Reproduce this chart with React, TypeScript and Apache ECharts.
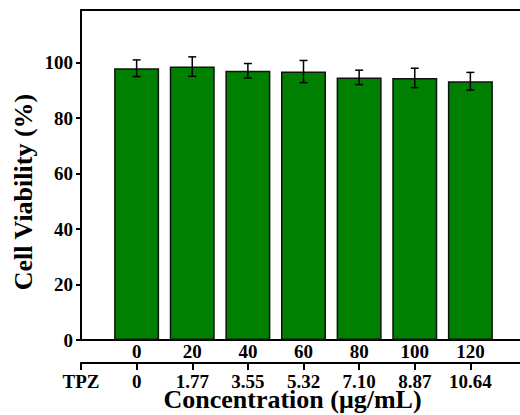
import React, { useEffect, useRef } from "react";
import * as echarts from "echarts";

const concentrations = ["0", "20", "40", "60", "80", "100", "120"];
const tpzLabels = ["0", "1.77", "3.55", "5.32", "7.10", "8.87", "10.64"];
const viability = [98, 98.6, 97.1, 96.8, 94.7, 94.5, 93.3];
const errors = [3, 3.5, 2.6, 4, 2.6, 3.5, 3.2];
const yTicks = [0, 20, 40, 60, 80, 100];

const FONT = "Liberation Serif";

export default function App() {
  const ref = useRef<HTMLDivElement>(null);
  useEffect(() => {
    if (!ref.current) return;
    const chart = echarts.init(ref.current, undefined, { renderer: "svg" });
    // padded categories so that bars sit one slot in from the left axis
    const topCats = ["", ...concentrations, ""];
    const tpzCats = ["TPZ", ...tpzLabels, ""];
    const barData = ["-", ...viability, "-"];
    const errData = viability.map((v, i) => [i + 1, v - errors[i], v + errors[i]]);

    chart.setOption({
      animation: false,
      textStyle: { fontFamily: FONT },
      grid: { left: 81, right: -6, top: 10, bottom: 75, containLabel: false, outerBoundsMode: "none" },
      xAxis: [
        {
          type: "category",
          data: topCats,
          position: "bottom",
          boundaryGap: false,
          axisLine: { lineStyle: { color: "#000", width: 2 } },
          axisTick: { inside: true, length: 7, lineStyle: { color: "#000", width: 2 }, alignWithLabel: true },
          axisLabel: {
            color: "#000",
            fontFamily: FONT,
            fontWeight: "bold",
            fontSize: 19,
            lineHeight: 16,
            margin: 3,
            interval: 0,
          },
          splitLine: { show: false },
        },
        {
          type: "category",
          data: tpzCats,
          position: "bottom",
          offset: 23,
          boundaryGap: false,
          axisLine: { lineStyle: { color: "#000", width: 2 } },
          axisTick: { length: 7, lineStyle: { color: "#000", width: 2 } },
          axisLabel: {
            color: "#000",
            fontFamily: FONT,
            fontWeight: "bold",
            fontSize: 19,
            lineHeight: 16,
            margin: 10,
            interval: 0,
          },
          name: "Concentration (μg/mL)",
          nameLocation: "middle",
          nameGap: 26,
          nameMoveOverlap: false,
          nameTextStyle: {
            color: "#000",
            fontFamily: FONT,
            fontWeight: "bold",
            fontSize: 26,
            lineHeight: 20,
            padding: [0, 22, 0, 0],
          },
          splitLine: { show: false },
        },
        {
          type: "category",
          data: topCats,
          position: "top",
          boundaryGap: false,
          axisLine: { lineStyle: { color: "#000", width: 2 } },
          axisTick: { show: false },
          axisLabel: { show: false },
          splitLine: { show: false },
        },
      ],
      yAxis: {
        type: "value",
        min: 0,
        max: 119,
        interval: 20,
        axisLine: { show: true, lineStyle: { color: "#000", width: 2 } },
        axisTick: { show: true, length: 5, lineStyle: { color: "#000", width: 2 } },
        axisLabel: {
          color: "#000",
          fontFamily: FONT,
          fontWeight: "bold",
          fontSize: 19,
          margin: 8,
          showMaxLabel: false,
          formatter: (v: number) => (yTicks.includes(v) ? String(v) : ""),
        },
        splitLine: { show: false },
        name: "Cell Viability (%)",
        nameLocation: "middle",
        nameGap: 45,
        nameMoveOverlap: false,
        nameTextStyle: {
          color: "#000",
          fontFamily: FONT,
          fontWeight: "bold",
          fontSize: 26,
          lineHeight: 26,
          padding: [0, 34, 0, 0],
        },
      },
      series: [
        {
          type: "bar",
          xAxisIndex: 0,
          data: barData,
          barWidth: 45,
          itemStyle: { color: "#008000", borderColor: "#111", borderWidth: 1.5 },
        },
        {
          type: "custom",
          xAxisIndex: 0,
          data: errData,
          z: 5,
          renderItem: (params: any, api: any) => {
            const x = api.value(0);
            const lo = api.coord([x, api.value(1)]);
            const hi = api.coord([x, api.value(2)]);
            const cap = 4;
            const style = { stroke: "#000", lineWidth: 1.5 };
            return {
              type: "group",
              children: [
                { type: "line", shape: { x1: lo[0], y1: lo[1], x2: hi[0], y2: hi[1] }, style },
                { type: "line", shape: { x1: hi[0] - cap, y1: hi[1], x2: hi[0] + cap, y2: hi[1] }, style },
                { type: "line", shape: { x1: lo[0] - cap, y1: lo[1], x2: lo[0] + cap, y2: lo[1] }, style },
              ],
            };
          },
        },
      ],
    });
    return () => chart.dispose();
  }, []);
  return (
    <div
      ref={ref}
      style={{ position: "fixed", left: 0, top: 0, width: 520, height: 415, background: "#fff" }}
    />
  );
}
